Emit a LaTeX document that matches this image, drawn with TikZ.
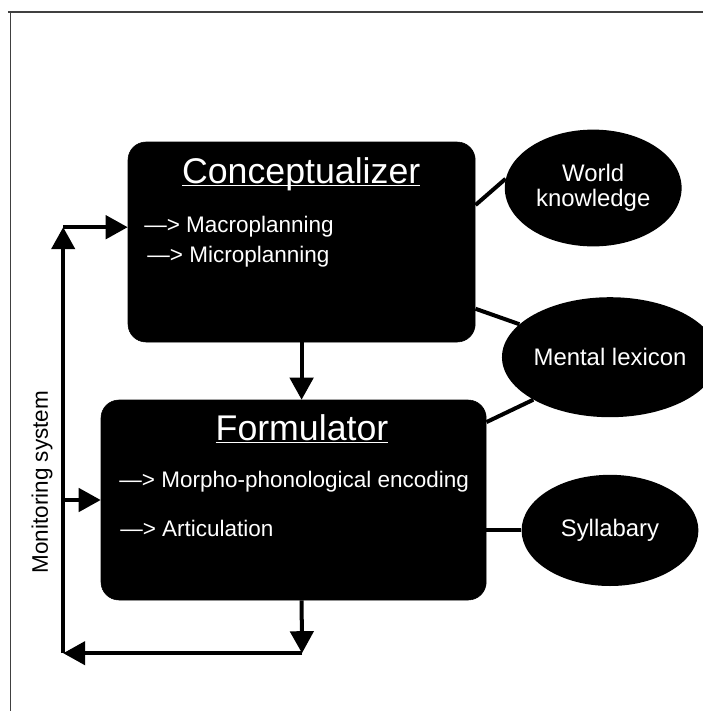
\documentclass[tikz,border=0pt]{standalone}
\usepackage{fontspec}
\setmainfont{Liberation Sans}
\usetikzlibrary{arrows.meta,shapes.geometric}
\tikzset{
    >={Triangle[length=0.55cm,width=0.58cm]},
    model/.style={
        stage/.append style={draw=black,fill=black,rounded corners=0.45cm,minimum height=5cm,inner sep=0pt},
        heading/.append style={text=white,inner sep=0pt,font=\fontsize{25.4}{30}\selectfont},
        task/.append style={text=white,anchor=west,inner sep=0pt,font=\fontsize{16}{19}\selectfont},
        store/.append style={ellipse,fill=black,text=white,align=center,inner sep=0pt,minimum width=4.42cm,font=\fontsize{17}{18}\selectfont},
        link/.append style={draw,line width=2.85pt},
        flow/.append style={draw,line width=2.85pt,->},
        frame/.append style={draw=black!75,line width=0.8pt}
    }
}
\newcommand{\headline}[1]{\underline{\smash{#1}}}

\begin{document}
\begin{tikzpicture}[model]
    \useasboundingbox (0,0) rectangle (17.575,-17.775);
    \draw[frame] (0.2,-0.3) -- (17.575,-0.3);
    \draw[frame] (0.26,-0.3) -- (0.26,-17.775);

    \node[stage,minimum width=8.68cm] (conc) at (7.54,-6.05) {};
    \node[heading] (conc-t) at (7.53,-4.63) {\headline{Conceptualizer}};
    \node[task] (macro) at (3.6,-5.67) {—> Macroplanning};
    \node[task] (micro) at (3.68,-6.42) {—> Microplanning};

    \node[stage,minimum width=9.63cm] (form) at (7.34,-12.5) {};
    \node[heading] (form-t) at (7.55,-11.04) {\headline{Formulator}};
    \node[task] (morph) at (2.98,-12.04) {—> Morpho-phonological encoding};
    \node[task] (artic) at (3.0,-13.22) {—> Articulation};

    \node[store,minimum height=2.92cm] (world) at (14.83,-4.7) {World\\knowledge};
    \node[store,minimum height=3cm] (lex) at (15.25,-8.93) {Mental lexicon};
    \node[store,minimum height=2.78cm] (syll) at (15.25,-13.26) {Syllabary};

    \draw[link] (conc.12) -- (world.174);
    \draw[link] (conc.-21) -- (lex.160);
    \draw[link] (form.22) -- (lex.209);
    \draw[link] (form.east |- syll.west) -- (syll.west);

    % monitoring loop
    \coordinate (mtop) at (1.58,-5.68);
    \coordinate (mbot) at (1.58,-16.33);
    \coordinate (out) at (7.55,-16.33);
    \draw[flow] (conc.south) -- (conc.south |- form.north);
    \draw[flow] (conc.south |- form.south) -- (out);
    \draw[flow] (out) -- (mbot);
    \draw[flow] (mbot) -- (mtop);
    \draw[flow] (mtop) -- (mtop -| conc.west);
    \draw[flow] (mtop |- form.west) -- (form.west);
    \node[rotate=90,font=\fontsize{16}{19}\selectfont] (mon) at (1.05,-12.05) {Monitoring system};
\end{tikzpicture}
\end{document}
